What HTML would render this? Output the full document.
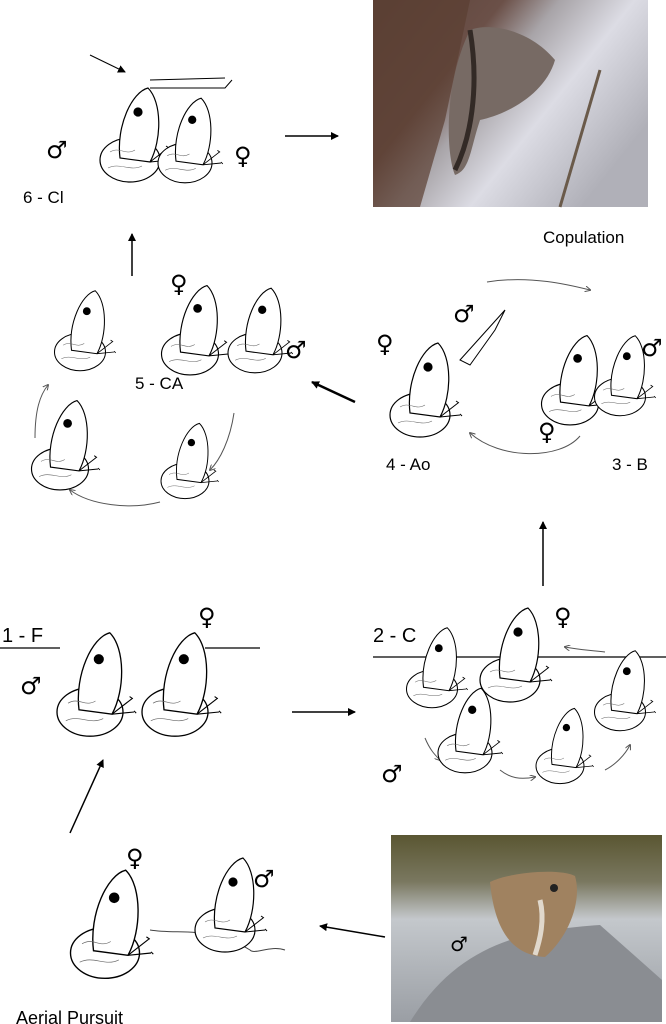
<!DOCTYPE html>
<html><head><meta charset="utf-8"><style>
html,body{margin:0;padding:0;background:#fff;}
svg{display:block}
text{font-family:"Liberation Sans",sans-serif;fill:#000}
text.s{font-family:"DejaVu Sans",sans-serif;font-size:24px}
</style></head><body>
<svg width="666" height="1024" viewBox="0 0 666 1024" xmlns="http://www.w3.org/2000/svg">
<defs>
<marker id="ah" markerWidth="8" markerHeight="8" refX="7" refY="4" orient="auto" markerUnits="userSpaceOnUse"><path d="M0,0 L8,4 L0,8 z" fill="#000"/></marker>
<marker id="ahs" markerWidth="6" markerHeight="6" refX="5" refY="3" orient="auto" markerUnits="userSpaceOnUse"><path d="M0,0 L6,3 L0,6" fill="none" stroke="#555"/></marker>
<linearGradient id="g1" x1="0" y1="0" x2="1" y2="0.6"><stop offset="0" stop-color="#5a4238"/><stop offset=".35" stop-color="#6b5048"/><stop offset=".5" stop-color="#a8a4a8"/><stop offset=".7" stop-color="#dcdce4"/><stop offset="1" stop-color="#b0b0b8"/></linearGradient>
<linearGradient id="g2" x1="0" y1="0" x2="0" y2="1"><stop offset="0" stop-color="#5a5632"/><stop offset=".25" stop-color="#7a7860"/><stop offset=".45" stop-color="#c4c8cc"/><stop offset="1" stop-color="#9a9ea4"/></linearGradient>
<g id="bf" fill="#fff" stroke="#000" stroke-width="1.2">
<ellipse cx="0" cy="20" rx="30" ry="22"/>
<path d="M-10,18 C-14,-14 2,-48 18,-52 C32,-38 32,0 20,22 Z"/>
<circle cx="8" cy="-28" r="4" fill="#000"/>
<path d="M-20,12 C-10,6 -5,16 5,10 M-22,28 C-10,22 0,32 12,26" fill="none" stroke-width=".6" stroke="#666"/>
<path d="M20,22 L38,8 M20,22 L40,20 M36,6 l3,2 M40,19 l2,2" fill="none" stroke-width="1"/>
</g>
</defs>
<rect x="373" y="0" width="275" height="207" fill="url(#g1)"/>
<path d="M373,0 L470,0 L445,120 L420,207 L373,207Z" fill="#5b3e32" opacity=".7"/>
<path d="M470,30 C490,22 530,30 555,60 C545,95 505,115 480,120 C470,150 470,170 455,175 C445,150 445,80 470,30Z" fill="#776a64"/>
<path d="M455,170 C470,140 480,90 470,30" stroke="#332a26" stroke-width="5" fill="none"/>
<path d="M600,70 L560,207" stroke="#6a5a4a" stroke-width="3" fill="none"/>
<rect x="391" y="835" width="271" height="187" fill="url(#g2)"/>
<path d="M410,1022 C460,940 530,930 600,925 L662,980 L662,1022Z" fill="#8a8d92"/>
<path d="M490,882 C510,872 560,868 575,876 C582,900 570,935 545,957 C515,955 495,935 490,882Z" fill="#a08260"/>
<path d="M540,900 C545,920 540,940 535,955" stroke="#e0d8cc" stroke-width="5" fill="none"/>
<circle cx="554" cy="888" r="4" fill="#222"/>
<text x="450" y="951" class="s" fill="#222" style="font-size:20px">♂</text>
<text x="23" y="203" font-size="17">6 - Cl</text>
<text x="543" y="243" font-size="17">Copulation</text>
<text x="135" y="389" font-size="17">5 - CA</text>
<text x="386" y="470" font-size="17">4 - Ao</text>
<text x="612" y="470" font-size="17">3 - B</text>
<text x="2" y="642" font-size="20">1 - F</text>
<text x="373" y="642" font-size="20">2 - C</text>
<text x="16" y="1024" font-size="18">Aerial Pursuit</text>
<text class="s" style="font-size:24px" x="46" y="158">♂</text><text class="s" style="font-size:24px" x="234" y="164">♀</text>
<text class="s" style="font-size:24px" x="170" y="292">♀</text><text class="s" style="font-size:24px" x="285" y="358">♂</text>
<text class="s" style="font-size:24px" x="453" y="322">♂</text><text class="s" style="font-size:24px" x="641" y="356">♂</text>
<text class="s" style="font-size:24px" x="376" y="352">♀</text><text class="s" style="font-size:24px" x="538" y="440">♀</text>
<text class="s" style="font-size:24px" x="20" y="694">♂</text><text class="s" style="font-size:24px" x="198" y="625">♀</text>
<text class="s" style="font-size:24px" x="554" y="625">♀</text><text class="s" style="font-size:24px" x="381" y="782">♂</text>
<text class="s" style="font-size:24px" x="126" y="866">♀</text><text class="s" style="font-size:24px" x="253" y="887">♂</text>
<g stroke="#000" stroke-width="1.5" fill="none" marker-end="url(#ah)">
<line x1="285" y1="136" x2="338" y2="136"/>
<line x1="132" y1="276" x2="132" y2="234"/>
<line x1="355" y1="402" x2="312" y2="382" stroke-width="2.5"/>
<line x1="543" y1="586" x2="543" y2="522"/>
<line x1="292" y1="712" x2="355" y2="712"/>
<line x1="70" y1="833" x2="103" y2="760"/>
<line x1="385" y1="937" x2="320" y2="926"/>
<line x1="90" y1="55" x2="125" y2="72" stroke-width="1"/>
</g>
<g stroke="#555" stroke-width="1" fill="none" marker-end="url(#ahs)">
<path d="M487,282 C530,275 570,285 590,290"/>
<path d="M580,436 C560,460 500,460 470,433"/>
<path d="M35,438 C35,410 40,395 48,385"/>
<path d="M160,502 C130,510 90,505 70,490"/>
<path d="M234,413 C230,440 220,460 210,470"/>
<path d="M425,738 C430,750 435,755 440,760"/>
<path d="M500,770 C510,778 520,780 535,777"/>
<path d="M605,770 C615,765 625,755 630,745"/>
<path d="M605,652 C590,650 580,650 565,647"/>
</g>
<g stroke="#000" stroke-width="1.2">
<line x1="0" y1="648" x2="60" y2="648"/>
<line x1="205" y1="648" x2="260" y2="648"/>
<line x1="373" y1="657" x2="666" y2="657"/>
</g>
<g stroke="#444" fill="none" stroke-width="1">
<path d="M150,930 C180,935 210,925 250,950 C255,955 270,945 285,950"/>
</g>
<use href="#bf" transform="translate(130,140)"/>
<use href="#bf" transform="translate(185,145) scale(.9)"/>
<path d="M150,80 L225,78 M150,88 L225,88 L232,80" stroke="#000" fill="none"/>
<use href="#bf" transform="translate(80,335) scale(.85)"/>
<use href="#bf" transform="translate(190,335) scale(.95)"/>
<use href="#bf" transform="translate(255,335) scale(.9)"/>
<use href="#bf" transform="translate(60,450) scale(.95)"/>
<use href="#bf" transform="translate(185,465) scale(.8)"/>
<use href="#bf" transform="translate(420,395)"/>
<path d="M460,360 L505,310 L495,330 L470,365Z" fill="#fff" stroke="#000"/>
<use href="#bf" transform="translate(570,385) scale(.95)"/>
<use href="#bf" transform="translate(620,380) scale(.85)"/>
<use href="#bf" transform="translate(90,690) scale(1.1)"/>
<use href="#bf" transform="translate(175,690) scale(1.1)"/>
<use href="#bf" transform="translate(432,672) scale(.85)"/>
<use href="#bf" transform="translate(510,660) scale(1)"/>
<use href="#bf" transform="translate(620,695) scale(.85)"/>
<use href="#bf" transform="translate(465,735) scale(.9)"/>
<use href="#bf" transform="translate(560,750) scale(.8)"/>
<use href="#bf" transform="translate(105,930) scale(1.15)"/>
<use href="#bf" transform="translate(225,910) scale(1)"/>
</svg>
</body></html>
